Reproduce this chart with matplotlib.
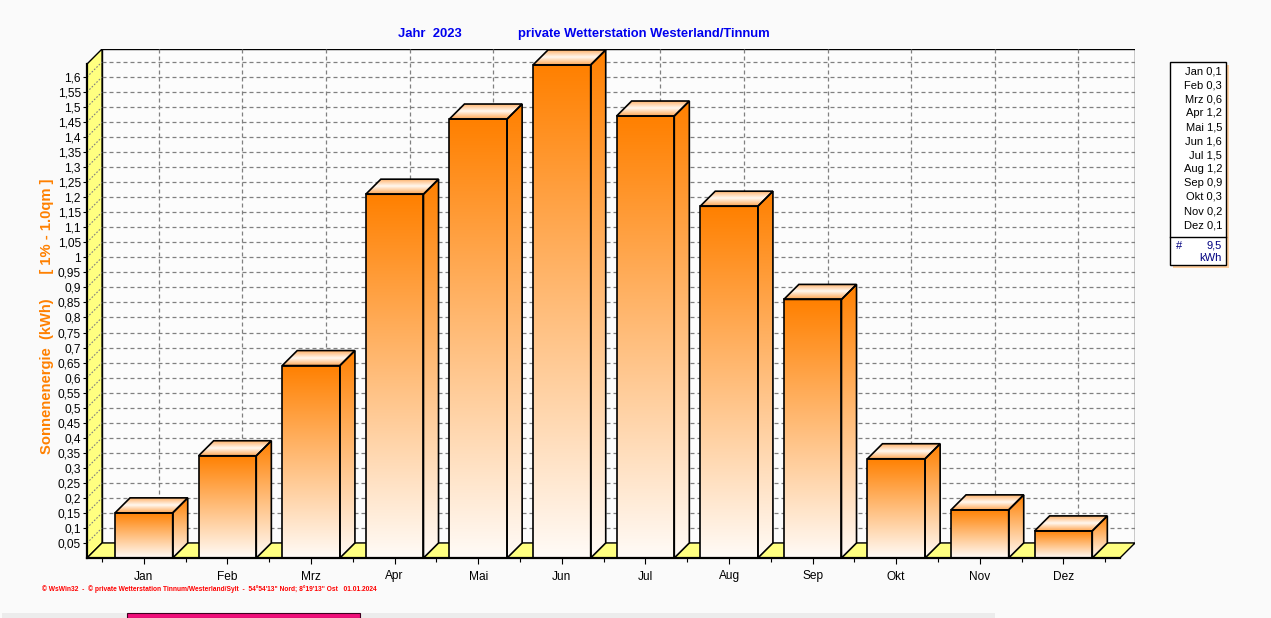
import numpy as np
import matplotlib
matplotlib.use("Agg")
import matplotlib.pyplot as plt
from matplotlib.patches import Polygon, Rectangle
from matplotlib.ticker import FixedLocator

# ---------------- data ----------------
months = ["Jan", "Feb", "Mrz", "Apr", "Mai", "Jun", "Jul", "Aug", "Sep", "Okt", "Nov", "Dez"]
energy = [0.15, 0.34, 0.64, 1.21, 1.46, 1.64, 1.47, 1.17, 0.86, 0.33, 0.16, 0.09]
legend_values = ["0,1", "0,3", "0,6", "1,2", "1,5", "1,6", "1,5", "1,2", "0,9", "0,3", "0,2", "0,1"]
legend_total = "9,5"
y_ticks = [round(0.05 * k, 2) for k in range(1, 33)]
title_left = "Jahr  2023"
title_right = "private Wetterstation Westerland/Tinnum"
y_label = "Sonnenenergie  (kWh)      [ 1% - 1.0qm ]"
footer = "\u00a9 WsWin32  -  \u00a9 private Wetterstation Tinnum/Westerland/Sylt  -  54\u00b054'13\" Nord; 8\u00b019'13\" Ost   01.01.2024"

plt.rcParams['font.family'] = ['Liberation Sans', 'DejaVu Sans']

W_PX, H_PX = 1271, 618
fig = plt.figure(figsize=(W_PX / 100, H_PX / 100), dpi=100)
BG = '#fafafa'
fig.patch.set_facecolor(BG)

def fx(px):
    return px / W_PX

def fy(py):
    return 1 - py / H_PX

# axes area (front-left-bottom to back-right-top)
ax = fig.add_axes([fx(87), fy(558), fx(1135) - fx(87), fy(49) - fy(558)])
ax.set_facecolor('none')

XMIN = -0.68
XMAX = 11.856
DX = 0.18          # depth offset in category units
DY = 0.05          # depth offset in value units
YTOP = 1.643       # front top of wall
YLIM = YTOP + DY
XF_RIGHT = XMAX - DX
BAR_W = 0.69

orange = np.array([255, 128, 0]) / 255
white = np.array([255, 251, 247]) / 255
yellow = '#ffff80'


def gradient_fill(verts, c_top, c_bot, z, y_ext=None, c_mid=None):
    xs = [v[0] for v in verts]
    ys = [v[1] for v in verts]
    x0, x1 = min(xs), max(xs)
    y0, y1 = (min(ys), max(ys)) if y_ext is None else y_ext
    t = np.linspace(0, 1, 256)[:, None]
    if c_mid is None:
        cols = c_top[None, :] * (1 - t) + c_bot[None, :] * t
    else:
        cols = np.where(t < 0.5,
                        c_top[None, :] * (1 - 2 * t) + c_mid[None, :] * (2 * t),
                        c_mid[None, :] * (2 - 2 * t) + c_bot[None, :] * (2 * t - 1))
    img = cols[:, None, :]
    poly = Polygon(verts, closed=True, facecolor='none', edgecolor='black',
                   lw=1.2, zorder=z + 0.5, joinstyle='miter')
    ax.add_patch(poly)
    im = ax.imshow(img, extent=[x0, x1, y0, y1], origin='upper', aspect='auto',
                   interpolation='bilinear', zorder=z)
    im.set_clip_path(poly)


# back wall
ax.add_patch(Rectangle((XMIN + DX, DY), XMAX - XMIN - DX, YTOP, facecolor='#fcfcfc',
                       edgecolor='black', lw=1.0, zorder=1))
grid_kw = dict(color='#808080', lw=0.9, dashes=(3.2, 2.4), zorder=1.5)
for v in y_ticks:
    ax.plot([XMIN + DX, XMAX], [v + DY, v + DY], **grid_kw)
for i in range(len(months)):
    ax.plot([i + DX, i + DX], [DY, YLIM], **grid_kw)

# left wall
ax.add_patch(Polygon([(XMIN, 0), (XMIN + DX, DY), (XMIN + DX, YLIM), (XMIN, YTOP)],
                     closed=True, facecolor=yellow, edgecolor='black', lw=1.0, zorder=2))
# floor
ax.add_patch(Polygon([(XMIN, 0), (XF_RIGHT, 0), (XMAX, DY), (XMIN + DX, DY)],
                     closed=True, facecolor=yellow, edgecolor='black', lw=1.0, zorder=2))
for v in y_ticks:
    ax.plot([XMIN, XMIN + DX], [v, v + DY], color='#808080', lw=0.8,
            dashes=(1.5, 1.5), zorder=2.5)

# bars
top_back = np.array([255, 170, 90]) / 255
top_mid = np.array([255, 248, 240]) / 255
top_front = np.array([255, 165, 80]) / 255
for i, v in enumerate(energy):
    x0, x1 = i - BAR_W / 2, i + BAR_W / 2
    z = 3 + i * 0.01
    # side face
    gradient_fill([(x1, 0), (x1 + DX, DY), (x1 + DX, v + DY), (x1, v)],
                  orange, white, z, y_ext=(0, v + DY))
    # top face
    gradient_fill([(x0, v), (x1, v), (x1 + DX, v + DY), (x0 + DX, v + DY)],
                  top_back, top_front, z, c_mid=top_mid)
    # front face
    gradient_fill([(x0, 0), (x1, 0), (x1, v), (x0, v)], orange, white, z + 0.002)

# axes styling via library ticks
for s in ['top', 'right']:
    ax.spines[s].set_visible(False)
ax.spines['left'].set_bounds(0, YTOP)
ax.spines['bottom'].set_bounds(XMIN, XF_RIGHT)
for s in ['left', 'bottom']:
    ax.spines[s].set_linewidth(1.6)
    ax.spines[s].set_zorder(6)

ax.set_yticks(y_ticks)
ax.set_yticklabels([("%g" % t).replace('.', ',') for t in y_ticks])
ax.set_xticks(range(len(months)))
ax.set_xticklabels(months)
ax.xaxis.set_minor_locator(FixedLocator([i - 0.5 for i in range(len(months) + 1)]))
ax.tick_params(axis='y', length=3, width=0.8, pad=1.5, labelsize=8.6, colors='black')
ax.tick_params(axis='x', which='major', length=4, width=0.8, pad=5, labelsize=8.6)
ax.tick_params(axis='x', which='minor', length=3, width=0.8)

ax.set_xlim(XMIN, XMAX)
ax.set_ylim(0, YLIM)

# y label
fig.text(fx(47), fy(316), y_label, rotation=90, ha='center', va='center',
         color='#ff8000', fontsize=10.6, fontweight='bold')

# title
fig.text(fx(430), fy(34), title_left, ha='center', va='center', color='#0000ee',
         fontsize=9.4, fontweight='bold')
fig.text(fx(644), fy(34), title_right, ha='center', va='center', color='#0000ee',
         fontsize=9.4, fontweight='bold')

# footer
fig.text(fx(42), fy(589), footer, ha='left', va='center', color='#ff0000',
         fontsize=4.75, fontweight='bold')

# legend box
fig.patches.append(Rectangle((fx(1173), fy(268)), fx(1229) - fx(1173), fy(65) - fy(268),
                             transform=fig.transFigure, facecolor='#ffcf9f', edgecolor='none',
                             zorder=1))
fig.patches.append(Rectangle((fx(1170), fy(265)), fx(1226) - fx(1170), fy(62) - fy(265),
                             transform=fig.transFigure, facecolor='white', edgecolor='black',
                             lw=1.0, zorder=2))
fig.lines.append(plt.Line2D([fx(1170), fx(1226)], [fy(237), fy(237)], transform=fig.transFigure,
                            color='black', lw=1.0, zorder=3))
for k, (m, val) in enumerate(zip(months, legend_values)):
    fig.text(fx(1222), fy(71 + 14 * k), f"{m} {val}", ha='right', va='center',
             fontsize=8, color='black')
fig.text(fx(1176), fy(246), "#", ha='left', va='center', fontsize=8, color='#000080')
fig.text(fx(1222), fy(246), legend_total, ha='right', va='center', fontsize=8, color='#000080')
fig.text(fx(1222), fy(258), "kWh", ha='right', va='center', fontsize=8, color='#000080')

# window strip at bottom
fig.patches.append(Rectangle((fx(2), fy(618)), fx(995) - fx(2), fy(613) - fy(618),
                             transform=fig.transFigure, facecolor='#ececec', edgecolor='none'))
fig.patches.append(Rectangle((fx(127), fy(618)), fx(360) - fx(127), fy(613) - fy(618),
                             transform=fig.transFigure, facecolor='#f0107a', edgecolor='#400020',
                             lw=0.8))

fig.savefig("out.png", dpi=100, facecolor=BG)
